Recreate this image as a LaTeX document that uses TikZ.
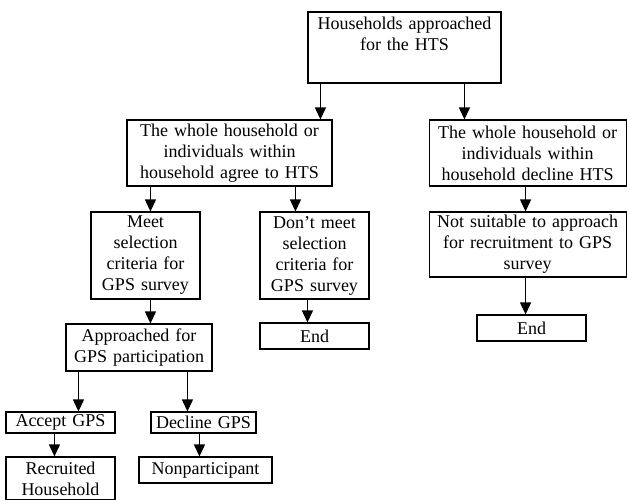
\documentclass[tikz,border=0pt]{standalone}
\usepackage{fontspec}
\setmainfont{Liberation Serif}
\usetikzlibrary{arrows.meta}

\tikzset{
    box/.style={draw, line width=1.1pt, align=center, inner sep=0pt},
    arr/.style={-{Triangle[length=12pt,width=11pt]}, line width=1.1pt}
}

\begin{document}
\begin{tikzpicture}[x=1pt, y=-1pt, font=\fontsize{18}{21}\selectfont]
    \useasboundingbox (0,0) rectangle (627,499);

    % Top level
    \node[box, text width=193pt, minimum height=71pt] (hts) at (404.5,47.5)
        {Households approached\\for the HTS\\\strut};

    % HTS answer
    \node[box, text width=205pt, minimum height=66pt] (agree) at (229.5,153)
        {The whole household or\\individuals within\\household agree to HTS};
    \node[box, text width=197pt, minimum height=66pt] (declhts) at (527.6,153)
        {The whole household or\\individuals within\\household decline HTS};

    % Selection criteria
    \node[box, text width=109pt, minimum height=87pt] (meet) at (145.5,255.5)
        {Meet\\selection\\criteria for\\GPS survey};
    \node[box, text width=109pt, minimum height=87pt] (nomeet) at (314.5,255.5)
        {Don't meet\\selection\\criteria for\\GPS survey};
    \node[box, text width=197pt, minimum height=65pt] (notsuit) at (527.6,244.5)
        {Not suitable to approach\\for recruitment to GPS\\survey};

    % Ends
    \node[box, text width=109pt, minimum height=26pt] (endmid) at (314.5,336) {End};
    \node[box, text width=109pt, minimum height=26pt] (endright) at (531.5,328) {End};

    % GPS recruitment
    \node[box, text width=146pt, minimum height=47pt] (approach) at (139,347.5)
        {Approached for\\GPS participation};
    \node[box, text width=109pt, minimum height=21pt] (accept) at (60.5,422.5) {Accept GPS};
    \node[box, text width=105pt, minimum height=21pt] (declgps) at (203.5,422.5) {Decline GPS};
    \node[box, text width=109pt, minimum height=43pt] (recruit) at (60.5,478.5)
        {Recruited\\Household};
    \node[box, text width=133pt, minimum height=26pt] (nonpart) at (205.5,470) {Nonparticipant};

    % Arrows
    \draw[arr] ([xshift=13pt]hts.south west) -- ([xshift=13pt]hts.south west |- agree.north);
    \draw[arr] ([xshift=157pt]hts.south west) -- ([xshift=157pt]hts.south west |- declhts.north);
    \draw[arr] ([xshift=24pt]agree.south west) -- ([xshift=24pt]agree.south west |- meet.north);
    \draw[arr] ([xshift=169pt]agree.south west) -- ([xshift=169pt]agree.south west |- nomeet.north);
    \draw[arr] ([xshift=97pt]declhts.south west) -- ([xshift=97pt]declhts.south west |- notsuit.north);
    \draw[arr] ([xshift=60pt]meet.south west) -- ([xshift=60pt]meet.south west |- approach.north);
    \draw[arr] ([xshift=48pt]nomeet.south west) -- ([xshift=48pt]nomeet.south west |- endmid.north);
    \draw[arr] ([xshift=97pt]notsuit.south west) -- ([xshift=97pt]notsuit.south west |- endright.north);
    \draw[arr] ([xshift=13pt]approach.south west) -- ([xshift=13pt]approach.south west |- accept.north);
    \draw[arr] ([xshift=122pt]approach.south west) -- ([xshift=122pt]approach.south west |- declgps.north);
    \draw[arr] ([xshift=49pt]accept.south west) -- ([xshift=49pt]accept.south west |- recruit.north);
    \draw[arr] ([xshift=49pt]declgps.south west) -- ([xshift=49pt]declgps.south west |- nonpart.north);
\end{tikzpicture}
\end{document}
